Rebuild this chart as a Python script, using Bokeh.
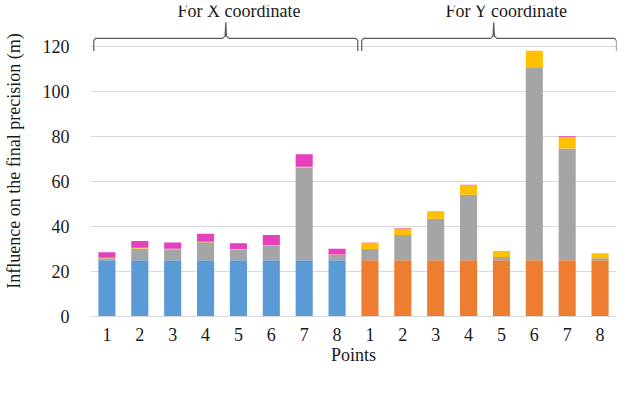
from bokeh.plotting import figure
from bokeh.models import ColumnDataSource, FixedTicker, Legend, LegendItem, Label, Range1d
from bokeh.embed import file_html
from bokeh.resources import INLINE

# ---------------- data ----------------
points = ["1", "2", "3", "4", "5", "6", "7", "8"]
groups = ["For X coordinate", "For Y coordinate"]
series_labels = ["X0", "Y0", "Z0", "ω", "φ", "κ"]
colors = ["#5B9BD5", "#ED7D31", "#A5A5A5", "#FFC000", "#E541BE", "#70AD47"]
y_ticks = [0, 20, 40, 60, 80, 100, 120]

# For X coordinate
x_X0 = [25.0, 25.0, 25.0, 25.0, 25.0, 25.0, 25.0, 25.0]
x_Y0 = [0.0, 0.0, 0.0, 0.0, 0.0, 0.0, 0.0, 0.0]
x_Z0 = [0.9, 5.2, 4.9, 8.0, 4.8, 6.4, 41.2, 2.4]
x_omega = [0.2, 0.3, 0.2, 0.2, 0.2, 0.3, 0.3, 0.2]
x_phi = [2.5, 3.0, 2.8, 3.6, 2.6, 4.5, 5.6, 2.5]
x_kappa = [0.0, 0.0, 0.0, 0.0, 0.0, 0.0, 0.0, 0.0]

# For Y coordinate
y_X0 = [0.0, 0.0, 0.0, 0.0, 0.0, 0.0, 0.0, 0.0]
y_Y0 = [25.0, 25.0, 25.0, 25.0, 25.0, 25.0, 25.0, 25.0]
y_Z0 = [5.0, 11.2, 18.4, 29.1, 1.4, 85.4, 49.7, 0.9]
y_omega = [2.8, 2.9, 3.3, 4.3, 2.7, 7.7, 5.2, 2.2]
y_phi = [0.1, 0.2, 0.1, 0.1, 0.0, 0.0, 0.3, 0.0]
y_kappa = [0.0, 0.0, 0.0, 0.0, 0.0, 0.0, 0.0, 0.0]

n = len(points)
xs = list(range(1, 2 * n + 1))
series_vals = [x_X0 + y_X0, x_Y0 + y_Y0, x_Z0 + y_Z0,
               x_omega + y_omega, x_phi + y_phi, x_kappa + y_kappa]

FONT = "Liberation Serif"
TXT = "#1a1a1a"

p = figure(frame_width=526, frame_height=311, output_backend="svg", toolbar_location=None,
           x_range=Range1d(0.5, 2 * n + 0.5), y_range=Range1d(0, 138.2))
p.outline_line_color = None

# stacked bars (bottom/top accumulated from the series)
renderers = []
base = [0.0] * len(xs)
for vals, col in zip(series_vals, colors):
    bb = list(base)
    bt = [b + v for b, v in zip(base, vals)]
    base = bt
    src = ColumnDataSource(dict(x=xs, bottom=bb, top=bt))
    renderers.append(p.vbar(x="x", bottom="bottom", top="top", width=0.52, source=src,
                            fill_color=col, line_color=None))

# axes
p.xaxis.ticker = FixedTicker(ticks=xs)
p.xaxis.major_label_overrides = {i: points[(i - 1) % n] for i in xs}
p.xaxis.axis_label = "Points"
p.xaxis.axis_line_color = "#D9D9D9"
p.xaxis.major_tick_line_color = None
p.xaxis.minor_tick_line_color = None
p.xaxis.major_label_standoff = 5
p.xaxis.axis_label_standoff = 1

p.yaxis.ticker = FixedTicker(ticks=y_ticks)
p.yaxis.axis_label = "Influence on the final precision (m)"
p.yaxis.axis_line_color = None
p.yaxis.major_tick_line_color = None
p.yaxis.minor_tick_line_color = None
p.yaxis.major_label_standoff = 15
p.yaxis.axis_label_standoff = 16

for ax in (p.xaxis[0], p.yaxis[0]):
    ax.major_label_text_font = FONT
    ax.major_label_text_font_size = "18px"
    ax.major_label_text_color = TXT
    ax.axis_label_text_font = FONT
    ax.axis_label_text_font_size = "18px"
    ax.axis_label_text_font_style = "normal"
    ax.axis_label_text_color = TXT

p.xgrid.grid_line_color = None
p.ygrid.ticker = FixedTicker(ticks=y_ticks)
p.ygrid.grid_line_color = "#D9D9D9"

# group braces + labels
for gi, g in enumerate(groups):
    L = gi * n + 0.6 + 0.15 * gi
    R = min(L + 8.03, 2 * n + 0.5)
    M = (L + L + 8.03) / 2
    bxs = [L, L, L + 0.06, M - 0.1, M - 0.02, M, M + 0.02, M + 0.1, R - 0.06, R, R]
    bys = [118, 122.6, 123.6, 123.6, 124.6, 130.7, 124.6, 123.6, 123.6, 122.6, 118]
    p.line(bxs, bys, line_color="#595959", line_width=1.2)
    p.add_layout(Label(x=M + 0.4, y=135.6, text=g, text_font=FONT, text_font_size="18px",
                       text_color=TXT, text_align="center", text_baseline="middle"))

# legend
dummy = p.vbar(x=[], top=[], width=0.5, fill_alpha=0, line_alpha=0)
items = [LegendItem(label="EOPs:", renderers=[dummy])]
items += [LegendItem(label=lab, renderers=[r]) for lab, r in zip(series_labels, renderers)]
legend = Legend(items=items, orientation="horizontal", location="center",
                label_text_font=FONT, label_text_font_size="18px", label_text_color=TXT,
                glyph_width=8, glyph_height=8, label_standoff=5, spacing=14,
                border_line_color=None, background_fill_alpha=0, margin=0, padding=3)
p.add_layout(legend, "below")

open("out.html", "w").write(file_html(p, INLINE))
